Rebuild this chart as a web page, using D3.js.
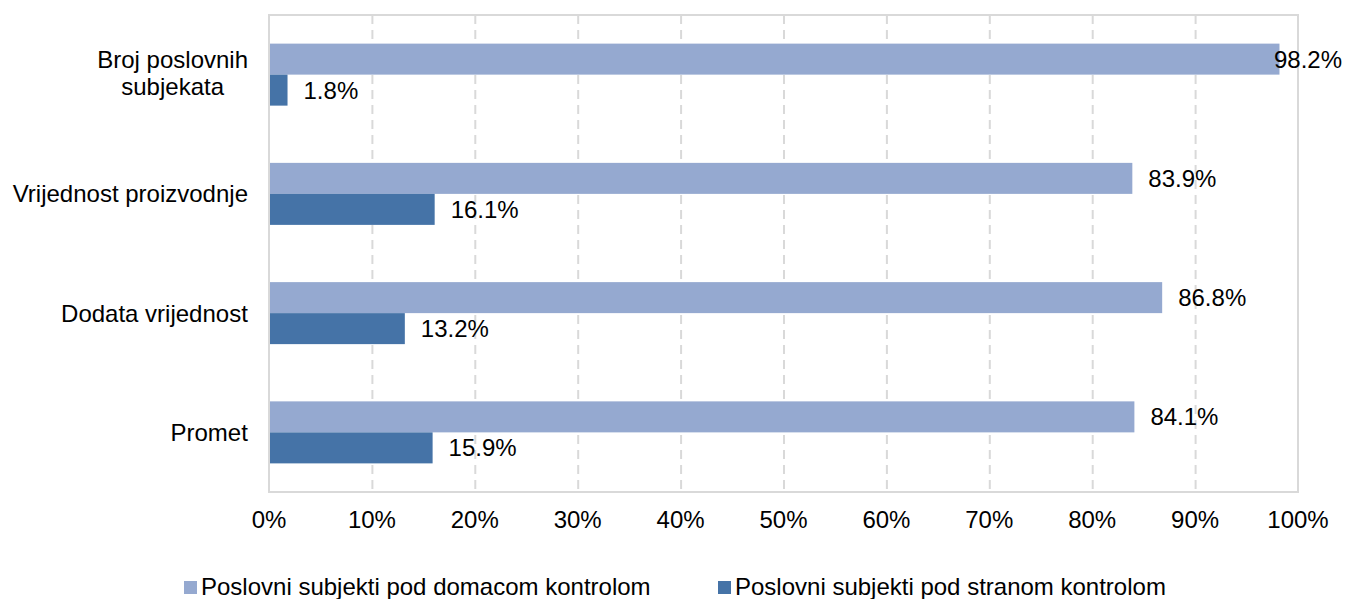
<!DOCTYPE html>
<html>
<head>
<meta charset="utf-8">
<script src="https://cdn.jsdelivr.net/npm/d3@7"></script>
<style>
  body { margin: 0; background: #fff; }
  text { font-family: "Liberation Sans", Arial, sans-serif; fill: #000; }
</style>
</head>
<body>
<svg></svg>
<script>
var categories = [["Broj poslovnih", "subjekata"], ["Vrijednost proizvodnje"], ["Dodata vrijednost"], ["Promet"]]
var domestic = [98.2, 83.9, 86.8, 84.1]
var foreign = [1.8, 16.1, 13.2, 15.9]
var seriesNames = ["Poslovni subjekti pod domacom kontrolom", "Poslovni subjekti pod stranom kontrolom"]
var ticks = [0, 10, 20, 30, 40, 50, 60, 70, 80, 90, 100]

var width = 1346, height = 599
var margin = { top: 15, right: 48, bottom: 107, left: 269 }
var colors = ["#95a9d0", "#4573a7"]

var svg = d3.select("svg").attr("width", width).attr("height", height)

var x = d3.scaleLinear().domain([0, 100]).range([margin.left, width - margin.right])
var y = d3.scaleBand().domain(d3.range(categories.length))
    .range([margin.top, height - margin.bottom]).paddingInner(0.48).paddingOuter(0.24)
var inner = d3.scaleBand().domain([0, 1]).range([0, y.bandwidth()])

// gridlines
svg.append("g").selectAll("line")
    .data(ticks.slice(1, -1))
    .enter().append("line")
    .attr("x1", (d) => x(d) + 0.5).attr("x2", (d) => x(d) + 0.5)
    .attr("y1", margin.top).attr("y2", height - margin.bottom)
    .attr("stroke", "#d9d9d9").attr("stroke-width", 2)
    .attr("stroke-dasharray", "9,6")

// plot border
svg.append("rect")
    .attr("x", margin.left).attr("y", margin.top)
    .attr("width", x(100) - x(0)).attr("height", height - margin.bottom - margin.top)
    .attr("fill", "none").attr("stroke", "#d9d9d9").attr("stroke-width", 2)

var rows = categories.map((c, i) => [domestic[i], foreign[i]])

var groups = svg.append("g").selectAll("g")
    .data(rows)
    .enter().append("g")
    .attr("transform", (d, i) => "translate(0," + y(i) + ")")

groups.selectAll("rect")
    .data((d) => d)
    .enter().append("rect")
    .attr("x", x(0) + 1)
    .attr("y", (d, j) => inner(j))
    .attr("width", (d) => x(d) - x(0) - 1)
    .attr("height", inner.bandwidth())
    .attr("fill", (d, j) => colors[j])

groups.selectAll("text")
    .data((d) => d)
    .enter().append("text")
    .attr("x", (d) => x(d) + 16)
    .attr("y", (d, j) => inner(j) + inner.bandwidth() / 2)
    .attr("dy", "0.35em")
    .attr("font-size", "24px")
    .text((d) => d.toFixed(1) + "%")
    .each(function () {
        var w = this.getComputedTextLength()
        var xx = +d3.select(this).attr("x")
        if (xx + w > width - 4) d3.select(this).attr("x", width - 4 - w)
    })

// category labels (multi-line ones centred on their widest line, right edge at 248)
svg.append("g").selectAll("text")
    .data(categories)
    .enter().append("text")
    .attr("font-size", "24px")
    .attr("text-anchor", "middle")
    .each(function (lines, i) {
        var t = d3.select(this)
        var cy = y(i) + y.bandwidth() / 2
        var lh = 27
        lines.forEach((l, k) => {
            var off = lines.length > 1 ? -2 : 0
            t.append("tspan").attr("x", 0)
                .attr("y", cy + off + (k - (lines.length - 1) / 2) * lh)
                .attr("dy", "0.35em").text(l)
        })
        var w = this.getBBox().width
        t.selectAll("tspan").attr("x", 248 - w / 2)
    })

// x axis labels
svg.append("g").selectAll("text")
    .data(ticks)
    .enter().append("text")
    .attr("x", (d) => x(d))
    .attr("y", 528)
    .attr("text-anchor", "middle")
    .attr("font-size", "24px")
    .text((d) => d + "%")

// legend
var legendX = [184, 718]
var legend = svg.append("g").selectAll("g")
    .data(seriesNames)
    .enter().append("g")
    .attr("transform", (d, i) => "translate(" + legendX[i] + ",595)")

legend.append("rect")
    .attr("x", 0).attr("y", -14).attr("width", 13).attr("height", 13)
    .attr("fill", (d, i) => colors[i])

legend.append("text")
    .attr("x", 17)
    .attr("font-size", "24px")
    .text((d) => d)
</script>
</body>
</html>
